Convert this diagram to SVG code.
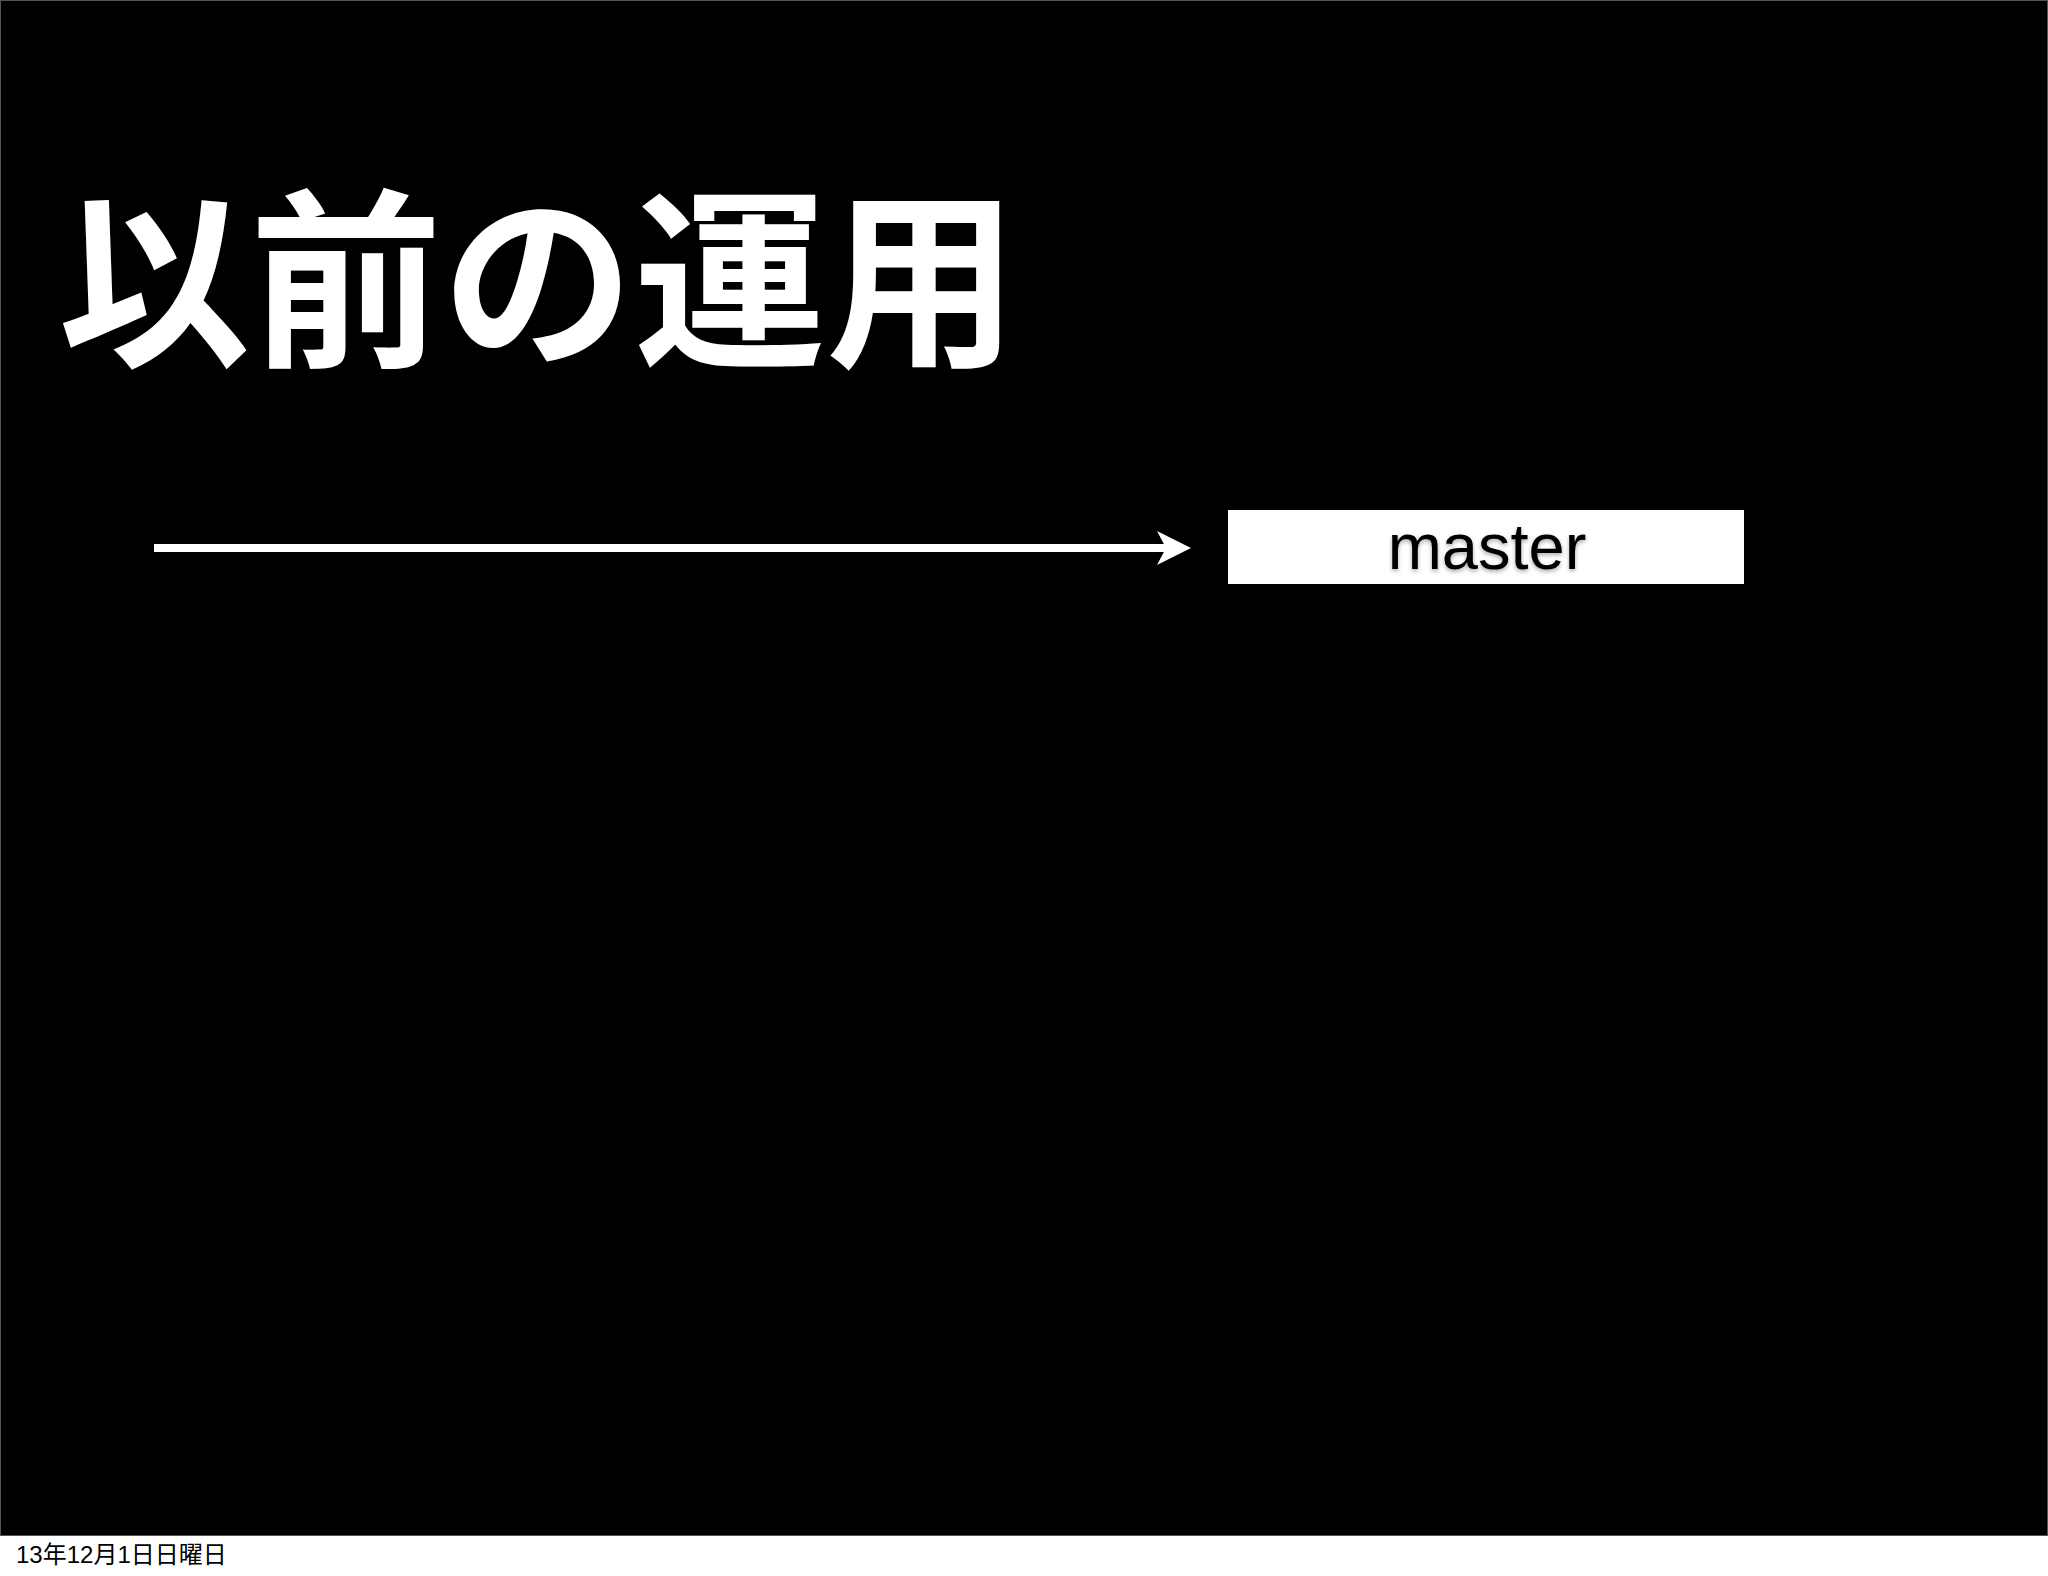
<svg xmlns="http://www.w3.org/2000/svg" width="2048" height="1576" viewBox="0 0 2048 1576">
  <style>
    .title { font-family: "Noto Sans CJK JP", "Noto Sans", sans-serif; font-weight: bold; font-size: 192px; fill: #ffffff; }
    .label { font-family: "Liberation Sans", Arial, sans-serif; font-size: 65px; fill: #000000; }
    .footer { font-family: "Liberation Sans", "Noto Sans CJK JP", sans-serif; font-size: 24px; fill: #000000; }
  </style>
  <defs>
    <filter id="shadow" x="-10%" y="-20%" width="120%" height="150%">
      <feDropShadow dx="0" dy="2" stdDeviation="2" flood-color="#000" flood-opacity="0.35"/>
    </filter>
  </defs>
  <rect x="0" y="0" width="2048" height="1576" fill="#ffffff"/>
  <rect x="0.5" y="0.5" width="2047" height="1535" fill="#000000" stroke="#555555" stroke-width="1"/>
  <g id="title">
    <text class="title" x="58" y="352">以前の運用</text>
  </g>
  <g id="connectors">
    <line x1="154" y1="548" x2="1166" y2="548" stroke="#ffffff" stroke-width="8"/>
    <polygon points="1191,548 1157,531 1166,548 1157,565" fill="#ffffff"/>
  </g>
  <g id="master">
    <rect x="1228" y="510" width="516" height="74" fill="#ffffff"/>
    <text class="label" x="1487" y="569" text-anchor="middle" filter="url(#shadow)">master</text>
  </g>
  <g id="footer">
    <text class="footer" x="16" y="1563">13年12月1日日曜日</text>
  </g>
</svg>
